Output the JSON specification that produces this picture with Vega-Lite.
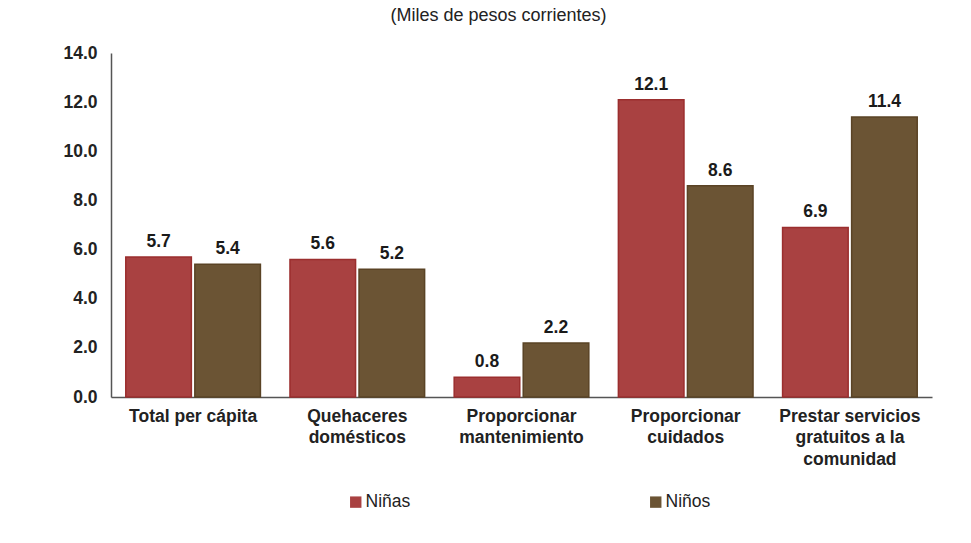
{
  "$schema": "https://vega.github.io/schema/vega-lite/v6.json",
  "autosize": "none",
  "width": 821,
  "height": 344,
  "padding": {"left": 111, "top": 53, "right": 39, "bottom": 146},
  "background": "white",
  "title": {
    "text": "(Miles de pesos corrientes)",
    "font": "Liberation Sans",
    "fontSize": 18,
    "fontWeight": "normal",
    "color": "#222222",
    "anchor": "middle",
    "offset": 19,
    "dx": -23
  },
  "data": {
    "values": [
      {"cat": "Total per cápita", "sexo": "Niñas", "v": 5.7},
      {"cat": "Total per cápita", "sexo": "Niños", "v": 5.4},
      {"cat": "Quehaceres|domésticos", "sexo": "Niñas", "v": 5.6},
      {"cat": "Quehaceres|domésticos", "sexo": "Niños", "v": 5.2},
      {"cat": "Proporcionar|mantenimiento", "sexo": "Niñas", "v": 0.8},
      {"cat": "Proporcionar|mantenimiento", "sexo": "Niños", "v": 2.2},
      {"cat": "Proporcionar|cuidados", "sexo": "Niñas", "v": 12.1},
      {"cat": "Proporcionar|cuidados", "sexo": "Niños", "v": 8.6},
      {"cat": "Prestar servicios|gratuitos a la|comunidad", "sexo": "Niñas", "v": 6.9},
      {"cat": "Prestar servicios|gratuitos a la|comunidad", "sexo": "Niños", "v": 11.4}
    ]
  },
  "encoding": {
    "x": {
      "field": "cat",
      "type": "nominal",
      "sort": null,
      "scale": {"paddingInner": 0.18, "paddingOuter": 0.09},
      "axis": {
        "title": null,
        "labelAngle": 0,
        "labelExpr": "split(datum.label, '|')",
        "labelFont": "Liberation Sans",
        "labelFontSize": 17.5,
        "labelFontWeight": "bold",
        "labelColor": "#222222",
        "labelLineHeight": 21.5,
        "labelPadding": 10,
        "ticks": false,
        "domainColor": "#555555",
        "domainWidth": 1.5
      }
    },
    "xOffset": {
      "field": "sexo",
      "type": "nominal",
      "scale": {"paddingInner": 0.05}
    },
    "y": {
      "field": "v",
      "type": "quantitative",
      "scale": {"domain": [0, 14]},
      "axis": {
        "title": null,
        "values": [0, 2, 4, 6, 8, 10, 12, 14],
        "format": ".1f",
        "grid": false,
        "ticks": false,
        "labelFont": "Liberation Sans",
        "labelFontSize": 17.5,
        "labelFontWeight": "bold",
        "labelColor": "#222222",
        "labelPadding": 14,
        "domainColor": "#555555",
        "domainWidth": 1.5
      }
    }
  },
  "layer": [
    {
      "mark": {"type": "bar", "strokeWidth": 1.5},
      "encoding": {
        "color": {
          "field": "sexo",
          "type": "nominal",
          "scale": {"domain": ["Niñas", "Niños"], "range": ["#A94141", "#6B5434"]},
          "legend": {
            "title": null,
            "orient": "none",
            "legendX": 236,
            "legendY": 440,
            "padding": 0,
            "direction": "horizontal",
            "symbolType": "square",
            "symbolSize": 130,
            "symbolStrokeWidth": 0,
            "labelFont": "Liberation Sans",
            "labelFontSize": 17.5,
            "labelColor": "#222222",
            "labelOffset": 1,
            "columnPadding": 236
          }
        },
        "stroke": {
          "field": "sexo",
          "type": "nominal",
          "scale": {"domain": ["Niñas", "Niños"], "range": ["#9B2E2E", "#5A4325"]},
          "legend": null
        }
      }
    },
    {
      "mark": {
        "type": "text",
        "baseline": "bottom",
        "dy": -6,
        "font": "Liberation Sans",
        "fontSize": 17.5,
        "fontWeight": "bold",
        "color": "#1a1a1a"
      },
      "encoding": {
        "text": {"field": "v", "type": "quantitative", "format": ".1f"}
      }
    }
  ],
  "config": {"view": {"stroke": null}}
}
